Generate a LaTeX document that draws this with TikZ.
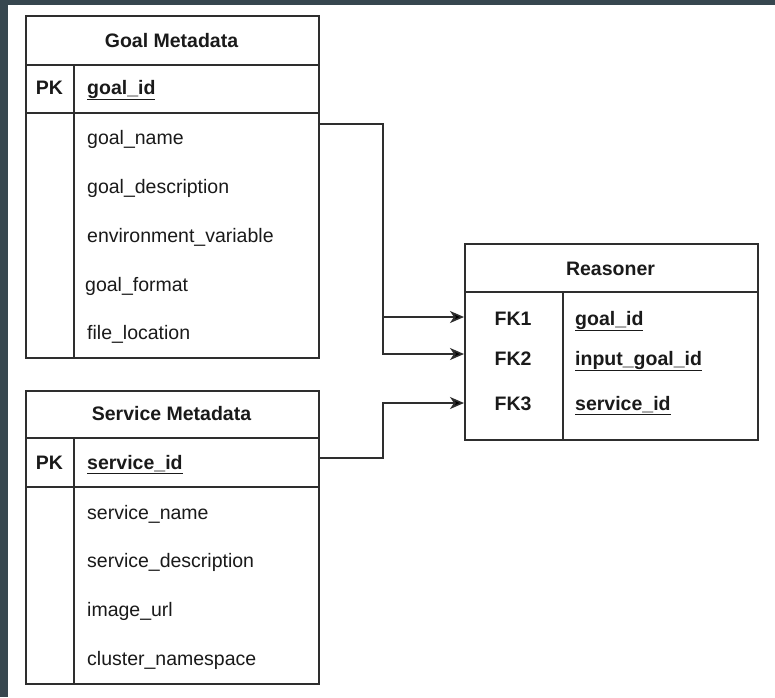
\documentclass[tikz,border=0pt]{standalone}
\usepackage{fontspec}
\setmainfont{Liberation Sans}
\usetikzlibrary{arrows.meta}
\definecolor{frame}{HTML}{37474F}
\definecolor{linec}{HTML}{2E2E2E}
\definecolor{txt}{HTML}{1A1A1A}
\begin{document}
\begin{tikzpicture}[x=1pt,y=-1pt,
  box/.style={draw=linec, line width=1.6pt, inner sep=0pt, anchor=north west, fill=white},
  sep/.style={draw=linec, line width=1.6pt},
  lbl/.style={inner sep=0pt, anchor=base west, text=txt, font=\fontsize{19.5}{23}\selectfont},
  keylbl/.style={inner sep=0pt, anchor=base, text=txt, font=\fontsize{19.5}{23}\selectfont\bfseries},
  hdr/.style={inner sep=0pt, anchor=base, text=txt, font=\fontsize{19.5}{23}\selectfont\bfseries},
  conn/.style={draw=linec, line width=1.6pt, -{Stealth[length=14pt,width=12pt,inset=4pt,fill=black]}}
]
\useasboundingbox (0,0) rectangle (775,697);
\fill[frame] (0,0) rectangle (775,697);
\fill[white] (8,5) rectangle (775,697);

% Goal Metadata
\node[box, minimum width=293pt, minimum height=342pt] (goal) at (25,15) {};
\draw[sep] (25,65) -- (318,65);
\draw[sep] (25,113) -- (318,113);
\draw[sep] (74,65) -- (74,357);
\node[hdr] (goalT) at (171.5,47) {Goal Metadata};
\node[keylbl] (goalPK) at (49.5,94) {PK};
\node[lbl, font=\fontsize{19.5}{23}\selectfont\bfseries] (goalId) at (87,94) {\underline{goal\_id}};
\node[lbl] (g1) at (87,144) {goal\_name};
\node[lbl] (g2) at (87,193) {goal\_description};
\node[lbl] (g3) at (87,242) {environment\_variable};
\node[lbl] (g4) at (85,291) {goal\_format};
\node[lbl] (g5) at (87,339) {file\_location};

% Service Metadata
\node[box, minimum width=293pt, minimum height=293pt] (svc) at (25,390) {};
\draw[sep] (25,438) -- (318,438);
\draw[sep] (25,487) -- (318,487);
\draw[sep] (74,438) -- (74,683);
\node[hdr] (svcT) at (171.5,420) {Service Metadata};
\node[keylbl] (svcPK) at (49.5,469) {PK};
\node[lbl, font=\fontsize{19.5}{23}\selectfont\bfseries] (svcId) at (87,469) {\underline{service\_id}};
\node[lbl] (s1) at (87,519) {service\_name};
\node[lbl] (s2) at (87,567) {service\_description};
\node[lbl] (s3) at (87,616) {image\_url};
\node[lbl] (s4) at (87,665) {cluster\_namespace};

% Reasoner
\node[box, minimum width=293pt, minimum height=196pt] (rea) at (464,243) {};
\draw[sep] (464,292) -- (757,292);
\draw[sep] (563,292) -- (563,439);
\node[hdr] (reaT) at (610.5,275) {Reasoner};
\node[keylbl] (fk1t) at (513,325) {FK1};
\node[keylbl] (fk2t) at (513,365) {FK2};
\node[keylbl] (fk3t) at (513,410) {FK3};
\node[lbl, font=\fontsize{19.5}{23}\selectfont\bfseries] (r1) at (575,325) {\underline{goal\_id}};
\node[lbl, font=\fontsize{19.5}{23}\selectfont\bfseries] (r2) at (575,365) {\underline{input\_goal\_id}};
\node[lbl, font=\fontsize{19.5}{23}\selectfont\bfseries] (r3) at (575,410) {\underline{service\_id}};

% ports
\coordinate (gp) at (318,124);
\coordinate (sp) at (318,458);
\coordinate (fk1) at (464,317);
\coordinate (fk2) at (464,354);
\coordinate (fk3) at (464,403);
\coordinate (bus) at (383,0);

% connectors
\draw[conn] (gp) -| (bus |- fk1) -- (fk1);
\draw[conn] (bus |- fk1) |- (fk2);
\draw[conn] (sp) -| (bus |- fk3) -- (fk3);
\end{tikzpicture}
\end{document}
